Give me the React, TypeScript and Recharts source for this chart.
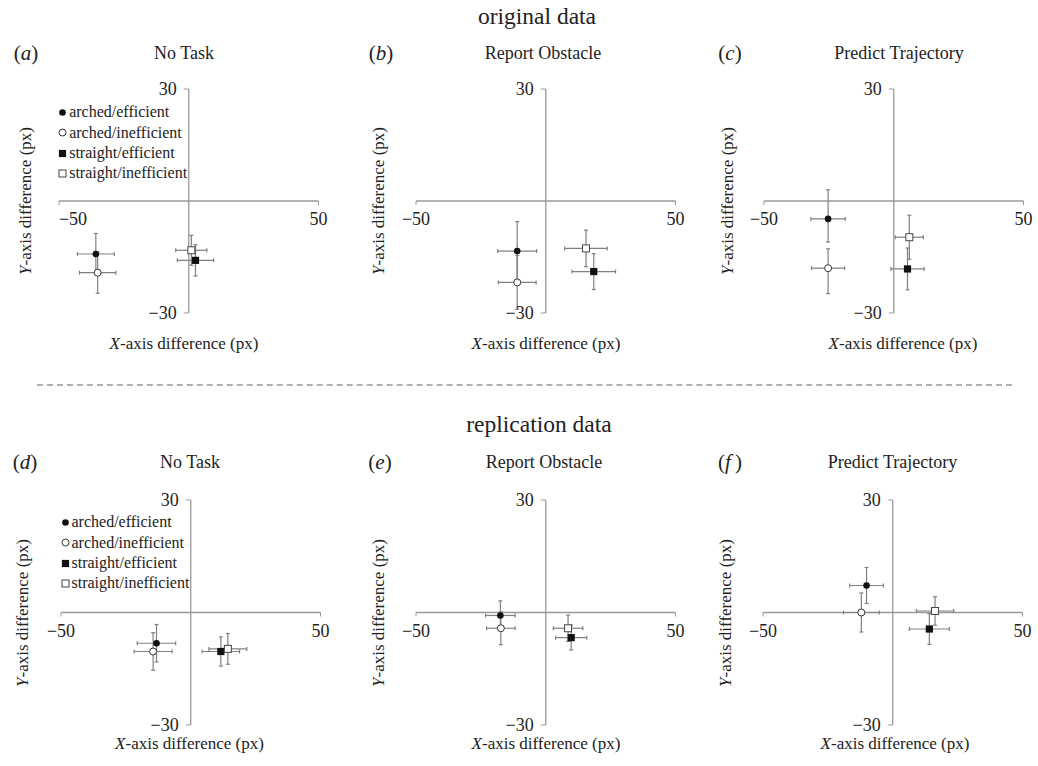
import React from 'react'
import { ScatterChart, Scatter, XAxis, YAxis, ReferenceLine, ErrorBar } from 'recharts'

// series order used by every panel's data
const SERIES = ['arched/efficient', 'arched/inefficient', 'straight/efficient', 'straight/inefficient']
const X_TICKS = [-50, 50]
const Y_TICKS = [-30, 30]
const TASKS = ['No Task', 'Report Obstacle', 'Predict Trajectory']

// original data (mean difference, error in x and y)
const origNoTask = [
  { x: -35.8, y: -14.2, ex: 7.1, ey: 5.5 },
  { x: -35.1, y: -19.2, ex: 7.0, ey: 5.5 },
  { x: 2.6, y: -15.9, ex: 7.0, ey: 4.2 },
  { x: 1.0, y: -13.2, ex: 6.0, ey: 4.0 },
]
const origReport = [
  { x: -11.0, y: -13.4, ex: 7.5, ey: 7.9 },
  { x: -11.0, y: -21.8, ex: 7.3, ey: 7.2 },
  { x: 18.5, y: -18.9, ex: 8.4, ey: 4.8 },
  { x: 15.5, y: -12.7, ex: 8.2, ey: 4.9 },
]
const origPredict = [
  { x: -25.3, y: -4.8, ex: 6.6, ey: [6.2, 7.8] },
  { x: -25.3, y: -18.0, ex: 6.4, ey: [6.8, 5.2] },
  { x: 5.3, y: -18.2, ex: 6.4, ey: 5.6 },
  { x: 6.0, y: -9.7, ex: 5.4, ey: 5.9 },
]

// replication data
const replNoTask = [
  { x: -13.2, y: -8.2, ex: 7.4, ey: 5.0 },
  { x: -14.5, y: -10.4, ex: 7.3, ey: 5.0 },
  { x: 11.6, y: -10.4, ex: 7.2, ey: 3.9 },
  { x: 14.3, y: -9.7, ex: 7.3, ey: 4.1 },
]
const replReport = [
  { x: -17.5, y: -0.8, ex: 5.7, ey: 3.9 },
  { x: -17.3, y: -4.2, ex: 5.5, ey: 4.4 },
  { x: 9.8, y: -6.7, ex: 6.0, ey: 3.3 },
  { x: 8.6, y: -4.2, ex: 5.7, ey: 3.5 },
]
const replPredict = [
  { x: -10.1, y: 7.2, ex: 6.5, ey: 4.8 },
  { x: -12.1, y: 0, ex: 6.9, ey: 5.2 },
  { x: 14.1, y: -4.4, ex: 7.7, ey: 4.1 },
  { x: 16.3, y: 0.4, ex: 7.2, ey: 3.8 },
]

const FONT = "'Liberation Serif', 'Times New Roman', serif"
const TXT = '#222'
const AXIS = '#9a9a9a'
const ERR = '#808080'
const PW = 259.5

const fmt = (v: number) => (v < 0 ? '\u2212' + Math.abs(v) : String(v))

const xTickPts = X_TICKS.map((t) => ({ x: t, y: 0 }))
const yTickPts = Y_TICKS.map((t) => ({ x: 0, y: t }))

function Marker({ kind, cx, cy }: { kind: number; cx: number; cy: number }) {
  if (kind === 0) return <circle cx={cx} cy={cy} r={3.3} fill="#111" />
  if (kind === 1) return <circle cx={cx} cy={cy} r={3.5} fill="#fff" stroke="#333" strokeWidth={1} />
  if (kind === 2) return <rect x={cx - 3.6} y={cy - 3.6} width={7.2} height={7.2} fill="#111" />
  return <rect x={cx - 3.5} y={cy - 3.5} width={7} height={7} fill="#fff" stroke="#444" strokeWidth={1} />
}

function Centered({ x, y, size, children, rotate }: any) {
  return (
    <div
      style={{
        position: 'absolute',
        left: x,
        top: y,
        transform: `translate(-50%, -50%)${rotate ? ' rotate(-90deg)' : ''}`,
        fontSize: size,
        lineHeight: 1,
        whiteSpace: 'nowrap',
        color: TXT,
      }}
    >
      {children}
    </div>
  )
}

function Legend({ x, y }: { x: number; y: number }) {
  return (
    <div style={{ position: 'absolute', left: x - 4.5, top: y - 10.2, fontSize: 16, color: TXT }}>
      {SERIES.map((s, i) => (
        <div key={s} style={{ display: 'flex', alignItems: 'center', height: 20.4 }}>
          <svg width={9} height={9} style={{ marginRight: 2 }}>
            <Marker kind={i} cx={4.5} cy={4.5} />
          </svg>
          <span style={{ lineHeight: 1 }}>{s}</span>
        </div>
      ))}
    </div>
  )
}

type PanelProps = {
  data: any[]
  left: number
  top: number
  height: number
  letter: string
  letterX: number
  title: string
  titleX: number
  titleY: number
  yLabelX: number
  xLabelX: number
  xLabelY: number
  legend?: { x: number; y: number }
  firstTickShift?: number
}

function Panel(p: PanelProps) {
  const M = 40
  const MT = 12
  const MB = 32
  const shift = p.firstTickShift || 0
  const XTick = (s: any) => (
    <g>
      <line x1={s.cx} y1={s.cy} x2={s.cx} y2={s.cy + 4} stroke={AXIS} />
      <text
        x={s.cx + (s.payload.x < 0 ? shift : 0)}
        y={s.cy + 24}
        textAnchor="middle"
        fontSize={18}
        fontFamily={FONT}
        fill={TXT}
      >
        {fmt(s.payload.x)}
      </text>
    </g>
  )
  const YTick = (s: any) => (
    <g>
      <line x1={s.cx - 5} y1={s.cy} x2={s.cx} y2={s.cy} stroke={AXIS} />
      <text x={s.cx - 12} y={s.cy + 5.5} textAnchor="end" fontSize={18} fontFamily={FONT} fill={TXT}>
        {fmt(s.payload.y)}
      </text>
    </g>
  )
  return (
    <>
      <div style={{ position: 'absolute', left: p.left - M, top: p.top - MT }}>
        <ScatterChart
          width={PW + 2 * M}
          height={p.height + MT + MB}
          margin={{ top: MT, right: M, bottom: MB, left: M }}
        >
          <XAxis type="number" dataKey="x" domain={[-50, 50]} hide />
          <YAxis type="number" dataKey="y" domain={[-30, 30]} hide />
          <ReferenceLine x={0} stroke={AXIS} strokeWidth={1.3} />
          <ReferenceLine y={0} stroke={AXIS} strokeWidth={1.3} />
          <Scatter data={xTickPts} shape={XTick} isAnimationActive={false} />
          <Scatter data={yTickPts} shape={YTick} isAnimationActive={false} />
          {p.data.map((d, i) => (
            <Scatter key={'e' + i} data={[d]} shape={() => <g />} isAnimationActive={false}>
              <ErrorBar dataKey="ex" direction="x" width={2} stroke={ERR} strokeWidth={1.2} />
              <ErrorBar dataKey="ey" direction="y" width={2} stroke={ERR} strokeWidth={1.2} />
            </Scatter>
          ))}
          {p.data.map((d, i) => (
            <Scatter
              key={'m' + i}
              name={SERIES[i]}
              data={[d]}
              shape={(s: any) => <Marker kind={i} cx={s.cx} cy={s.cy} />}
              isAnimationActive={false}
            />
          ))}
        </ScatterChart>
      </div>
      <Centered x={p.letterX} y={p.titleY} size={21}>
        (<i>{p.letter}</i>
        {p.letter === 'f' ? '\u2009' : ''})
      </Centered>
      <Centered x={p.titleX} y={p.titleY} size={18}>
        {p.title}
      </Centered>
      <Centered x={p.yLabelX} y={p.top + p.height / 2} size={17} rotate>
        <i>Y</i>-axis difference (px)
      </Centered>
      <Centered x={p.xLabelX} y={p.xLabelY} size={17}>
        <i>X</i>-axis difference (px)
      </Centered>
      {p.legend && <Legend x={p.legend.x} y={p.legend.y} />}
    </>
  )
}

export default function App() {
  return (
    <div
      style={{
        position: 'absolute',
        left: 0,
        top: 0,
        width: 1038,
        height: 766,
        background: '#fff',
        fontFamily: FONT,
        overflow: 'hidden',
      }}
    >
      <Centered x={537} y={17} size={23.5}>
        original data
      </Centered>
      <Panel
        data={origNoTask}
        left={59}
        top={89}
        height={224}
        letter="a"
        letterX={26}
        title={TASKS[0]}
        titleX={184}
        titleY={53}
        yLabelX={25}
        xLabelX={184}
        xLabelY={343}
        legend={{ x: 62.7, y: 112.3 }}
        firstTickShift={14}
      />
      <Panel
        data={origReport}
        left={416}
        top={89}
        height={224}
        letter="b"
        letterX={381}
        title={TASKS[1]}
        titleX={543}
        titleY={53}
        yLabelX={378}
        xLabelX={546}
        xLabelY={343}
      />
      <Panel
        data={origPredict}
        left={763.5}
        top={89}
        height={224}
        letter="c"
        letterX={730}
        title={TASKS[2]}
        titleX={899}
        titleY={53}
        yLabelX={727}
        xLabelX={903}
        xLabelY={343}
      />

      <div
        style={{
          position: 'absolute',
          left: 37,
          top: 384,
          width: 975,
          borderTop: '2px dashed #b0b0b0',
        }}
      />

      <Centered x={539} y={425} size={23.5}>
        replication data
      </Centered>
      <Panel
        data={replNoTask}
        left={60.7}
        top={500}
        height={225}
        letter="d"
        letterX={25}
        title={TASKS[0]}
        titleX={190}
        titleY={462}
        yLabelX={22}
        xLabelX={189.5}
        xLabelY={743}
        legend={{ x: 65, y: 522.3 }}
      />
      <Panel
        data={replReport}
        left={416}
        top={500}
        height={225}
        letter="e"
        letterX={380}
        title={TASKS[1]}
        titleX={544}
        titleY={462}
        yLabelX={378}
        xLabelX={546}
        xLabelY={743}
      />
      <Panel
        data={replPredict}
        left={763}
        top={500}
        height={225}
        letter="f"
        letterX={730}
        title={TASKS[2]}
        titleX={892.5}
        titleY={462}
        yLabelX={725}
        xLabelX={895}
        xLabelY={743}
      />
    </div>
  )
}
